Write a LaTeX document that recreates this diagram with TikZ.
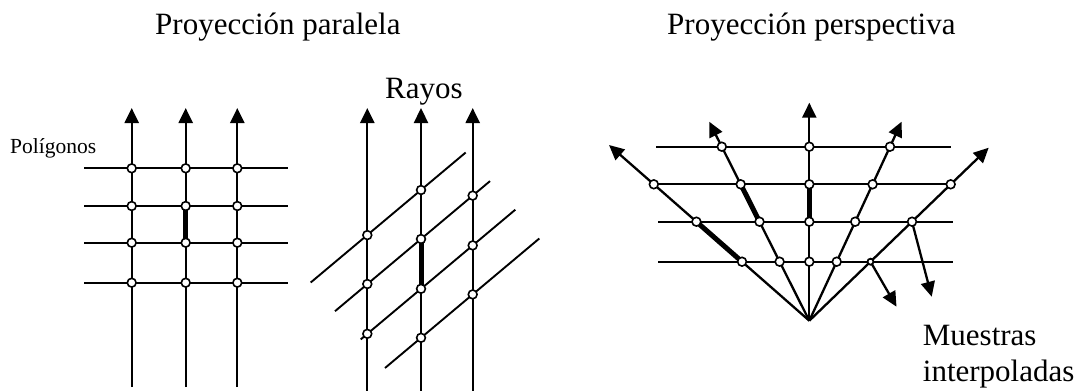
\documentclass[tikz,border=0pt]{standalone}
\usepackage{fontspec}
\setmainfont{Liberation Serif}
\usetikzlibrary{arrows.meta}
\tikzset{
  ray/.style={line width=2.3pt},
  rayarrow/.style={line width=2.3pt,-{Triangle[length=15pt,width=14pt]}},
  hline/.style={line width=2pt},
  dline/.style={line width=1.9pt},
  thickseg/.style={line width=5pt},
  dot/.style={circle,draw,fill=white,line width=1.6pt,minimum size=8.8pt,inner sep=0pt},
  smalldot/.style={circle,draw,fill=white,line width=1.8pt,minimum size=6pt,inner sep=0pt},
  big/.style={font=\fontsize{31}{36}\selectfont,inner sep=0pt,anchor=base west},
  small/.style={font=\fontsize{21.5}{25}\selectfont,inner sep=0pt,anchor=base west}
}
\begin{document}
\begin{tikzpicture}[x=1pt,y=-1pt]
\useasboundingbox (0,0) rectangle (1082,391);
% titles
\node[big] (t1) at (155,34) {Proyección paralela};
\node[big] (t2) at (667,34) {Proyección perspectiva};
\node[big] (rayos) at (385,98.3) {Rayos};
\node[small] (polig) at (10,153.3) {Polígonos};
\node[big] (muest) at (922.7,345) {Muestras};
\node[big] (interp) at (922.7,381.7) {interpoladas};

% ---------- left panel: parallel, polygons perpendicular
\foreach \x [count=\i] in {131.7,185.7,237.3}{
  \coordinate (lt\i) at (\x,108);
  \coordinate (lb\i) at (\x,387);
  \draw[rayarrow] (lb\i) -- (lt\i);
}
\foreach \y [count=\j] in {168.3,206,242.7,282.7}{
  \coordinate (lw\j) at (84,\y);
  \coordinate (le\j) at (287.5,\y);
  \draw[hline] (lw\j) -- (le\j);
}
\draw[thickseg] (185.7,206) coordinate (lk1) -- (185.7,242.7) coordinate (lk2);
\foreach \x [count=\i] in {131.7,185.7,237.3}{
  \foreach \y [count=\j] in {168.3,206,242.7,282.7}{
    \node[dot] (lc\i\j) at (\x,\y) {};
  }
}

% ---------- middle panel: parallel, polygons oblique
\foreach \x [count=\i] in {367.3,421,472.7}{
  \coordinate (mt\i) at (\x,108);
  \coordinate (mb\i) at (\x,391);
  \draw[rayarrow] (mb\i) -- (mt\i);
}
\coordinate (md0a) at (310.7,282.5); \coordinate (md0b) at (465.7,152.5);
\coordinate (md1a) at (335,311.2);   \coordinate (md1b) at (490,181.1);
\coordinate (md2a) at (360.7,339.4); \coordinate (md2b) at (515.3,209.7);
\coordinate (md3a) at (385,368.0);   \coordinate (md3b) at (539.3,238.5);
\foreach \k in {0,1,2,3}{ \draw[dline] (md\k a) -- (md\k b); }
\node[dot] (mc10) at (367.3,235.1) {};
\node[dot] (mc11) at (367.3,284.0) {};
\node[dot] (mc12) at (367.3,333.8) {};
\node[dot] (mc20) at (421,190) {};
\node[dot] (mc23) at (421,337.8) {};
\node[dot] (mc31) at (472.7,195.6) {};
\node[dot] (mc32) at (472.7,245.4) {};
\node[dot] (mc33) at (472.7,294.4) {};
\draw[thickseg] (421,239) coordinate (mk1) -- (421,288.8) coordinate (mk2);
\node[dot] (mc21) at (mk1) {};
\node[dot] (mc22) at (mk2) {};

% ---------- right panel: perspective
\coordinate (apex) at (809.3,320.7);
% horizontal polygon lines
\draw[dline] (656,146.7) coordinate (h1w) -- (951,146.7) coordinate (h1e);
\draw[dline] (654,184.3) coordinate (h2w) -- (950.7,184.3) coordinate (h2e);
\draw[dline] (658.3,221.7) coordinate (h3w) -- (953.3,221.7) coordinate (h3e);
\draw[dline] (658.3,261.7) coordinate (h4w) -- (953.3,261.7) coordinate (h4e);
% rays
\coordinate (tipL1) at (609.0,145.0);
\coordinate (tipL2) at (709.2,121.7);
\coordinate (tipC) at (809.3,102.7);
\coordinate (tipR2) at (901.6,121.7);
\coordinate (tipR1) at (988.7,147.7);
\foreach \t in {L1,L2,C,R2,R1}{ \draw[rayarrow] (apex) -- (tip\t); }
% thick segments
\draw[thickseg] (696.4,221.7) coordinate (pk1) -- (742.0,261.7) coordinate (pk2);
\draw[thickseg] (740.7,184.3) coordinate (pk3) -- (759.5,221.7) coordinate (pk4);
\draw[thickseg] (809.3,184.3) coordinate (pk5) -- (809.3,221.7) coordinate (pk6);
% interpolated sample arrows
\coordinate (s1) at (912.0,221.7);
\coordinate (s2) at (870.5,261.7);
\coordinate (s1tip) at (931.7,296.7);
\coordinate (s2tip) at (896.5,306.7);
\draw[rayarrow] (s1) -- (s1tip);
\draw[rayarrow] (s2) -- (s2tip);
% sample dots
\node[dot] (pL1a) at (653.8,184.3) {};
\node[dot] (pL1c) at (pk1) {};
\node[dot] (pL1d) at (pk2) {};
\node[dot] (pL2a) at (721.8,146.7) {};
\node[dot] (pL2b) at (pk3) {};
\node[dot] (pL2c) at (pk4) {};
\node[dot] (pL2d) at (779.6,261.7) {};
\node[dot] (pCa) at (809.3,146.7) {};
\node[dot] (pCb) at (pk5) {};
\node[dot] (pCc) at (pk6) {};
\node[dot] (pCd) at (809.3,261.7) {};
\node[dot] (pR2a) at (890.0,146.7) {};
\node[dot] (pR2b) at (872.6,184.3) {};
\node[dot] (pR2c) at (855.2,221.7) {};
\node[dot] (pR2d) at (836.7,261.7) {};
\node[dot] (pR1a) at (950.7,184.3) {};
\node[dot] (pR1b) at (s1) {};
\node[smalldot] (pR1c) at (s2) {};
\end{tikzpicture}
\end{document}
